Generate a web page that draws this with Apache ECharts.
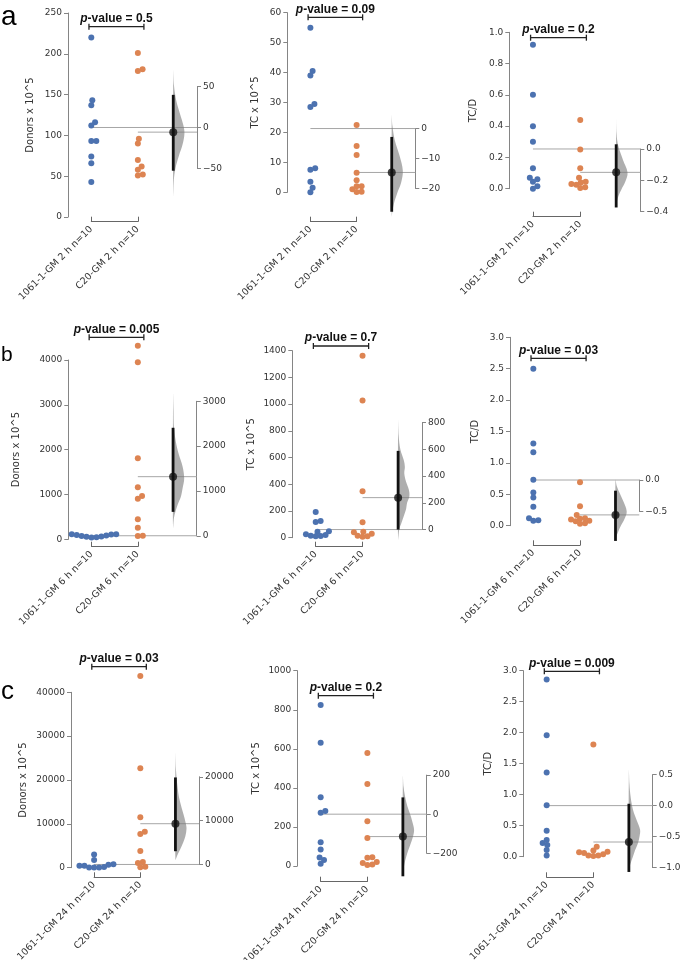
<!DOCTYPE html>
<html>
<head>
<meta charset="utf-8">
<script src="https://cdn.jsdelivr.net/npm/echarts@6/dist/echarts.min.js"></script>
<style>
  html, body { margin: 0; background: #fff; }
  #main { width: 683px; height: 960px; }
</style>
</head>
<body>
<div id="main"></div>
<script>
var times = ['2 h', '6 h', '24 h']
var groupNames = ['1061-1-GM', 'C20-GM']
var groupN = [10, 10]
var measures = ['Donors x 10^5', 'TC x 10^5', 'TC/D']
var rowLetters = ['a', 'b', 'c']
var pValues = [['0.5', '0.09', '0.2'], ['0.005', '0.7', '0.03'], ['0.03', '0.2', '0.009']]

// 2 h
var donors2hCtrl = [220, 143, 137, 116, 112, 93, 93, 74, 66, 43]
var donors2hTest = [201, 181, 179, 96, 90, 70, 62, 58, 52, 51]
var donors2hCI = [-53, 40]
var donors2hBoot = [[70, 0], [52, 0.06], [32, 0.28], [16, 0.62], [3, 0.9], [-7, 1], [-20, 0.85], [-35, 0.5], [-50, 0.2], [-65, 0.05], [-85, 0]]

var tc2hCtrl = [55, 40.5, 39, 29.5, 28.5, 8, 7.5, 3.5, 1.5, 0]
var tc2hTest = [22.5, 15.5, 12.5, 6.5, 4, 2, 2, 1, 0.2, 0.1]
var tc2hCI = [-27.8, -2.8]
var tc2hBoot = [[4.5, 0], [1, 0.06], [-4, 0.28], [-9, 0.7], [-14, 1], [-18, 0.85], [-21.5, 0.5], [-25, 0.2], [-28, 0.05], [-29.5, 0]]

var ratio2hCtrl = [0.92, 0.6, 0.4, 0.3, 0.13, 0.07, 0.06, 0.045, 0.015, 0]
var ratio2hTest = [0.44, 0.25, 0.13, 0.07, 0.045, 0.04, 0.03, 0.025, 0.01, 0.005]
var ratio2hCI = [-0.374, 0.03]
var ratio2hBoot = [[0.2, 0], [0.1, 0.03], [0.02, 0.18], [-0.07, 0.6], [-0.15, 1], [-0.21, 0.8], [-0.26, 0.45], [-0.3, 0.2], [-0.34, 0.05], [-0.37, 0]]

// 6 h
var donors6hCtrl = [115, 110, 105, 95, 85, 75, 65, 55, 45, 40]
var donors6hTest = [4320, 3950, 1810, 1160, 965, 905, 445, 260, 80, 75]
var donors6hCI = [533, 2409]
var donors6hBoot = [[3160, 0], [2800, 0.04], [2420, 0.08], [2100, 0.25], [1830, 0.5], [1550, 0.85], [1275, 1], [1050, 0.85], [870, 0.7], [700, 0.42], [570, 0.25], [400, 0.08], [160, 0]]

var tc6hCtrl = [192, 125, 118, 48, 45, 25, 20, 15, 12, 10]
var tc6hTest = [1362, 1028, 347, 115, 45, 40, 30, 15, 10, 8]
var tc6hCI = [0, 589]
var tc6hBoot = [[820, 0], [700, 0.05], [600, 0.2], [520, 0.5], [470, 0.6], [420, 0.55], [360, 0.7], [300, 0.95], [250, 1], [200, 0.8], [150, 0.7], [100, 0.5], [50, 0.3], [0, 0.1], [-77, 0]]

var ratio6hCtrl = [2.5, 1.31, 1.17, 0.73, 0.53, 0.45, 0.3, 0.12, 0.085, 0.08]
var ratio6hTest = [0.69, 0.31, 0.17, 0.12, 0.11, 0.1, 0.08, 0.07, 0.04, 0.03]
var ratio6hCI = [-0.97, -0.17]
var ratio6hBoot = [[0, 0], [-0.1, 0.12], [-0.2, 0.35], [-0.34, 0.7], [-0.5, 1], [-0.62, 0.8], [-0.72, 0.5], [-0.82, 0.25], [-0.9, 0.08], [-0.96, 0]]

// 24 h
var donors24hCtrl = [3000, 1750, 760, 700, 460, 460, 150, 60, 40, 20]
var donors24hTest = [43700, 22700, 11500, 8200, 7700, 3800, 1300, 1100, 200, 100]
var donors24hCI = [3020, 19840]
var donors24hBoot = [[25300, 0], [22000, 0.04], [19900, 0.1], [17500, 0.2], [15300, 0.32], [13000, 0.55], [11500, 0.72], [9500, 0.92], [8200, 1], [6500, 0.9], [5000, 0.7], [3300, 0.4], [2000, 0.15], [1100, 0]]

var tc24hCtrl = [824, 631, 352, 282, 273, 121, 84, 43, 31, 12]
var tc24hTest = [579, 420, 229, 143, 45, 42, 20, 15, 8, 5]
var tc24hCI = [-318, 86]
var tc24hBoot = [[194, 0], [140, 0.06], [89, 0.2], [40, 0.4], [5, 0.62], [-40, 0.85], [-81, 1], [-120, 0.88], [-150, 0.7], [-185, 0.48], [-218, 0.3], [-260, 0.12], [-313, 0]]

var ratio24hCtrl = [2.86, 1.96, 1.36, 0.83, 0.42, 0.27, 0.22, 0.19, 0.11, 0.02]
var ratio24hTest = [1.81, 0.16, 0.1, 0.08, 0.07, 0.06, 0.04, 0.02, 0.02, 0.01]
var ratio24hCI = [-1.07, 0.03]
var ratio24hBoot = [[0.58, 0], [0.35, 0.05], [0.15, 0.15], [0, 0.28], [-0.12, 0.45], [-0.26, 0.75], [-0.39, 1], [-0.5, 0.95], [-0.61, 0.8], [-0.72, 0.55], [-0.83, 0.35], [-0.95, 0.12], [-1.07, 0]]

// layout of every panel (pixels) and axis ranges
var panels = [
  { row: 0, col: 0, ctrl: donors2hCtrl, test: donors2hTest, ci: donors2hCI, boot: donors2hBoot,
    left: 68, width: 129, top: 13, bottom: 217, min: 0, max: 250, step: 50, dMin: -50, dMax: 50, dStep: 50, dec: 0, nameGap: 33, bracketY: 221.7, pY: 26.7 },
  { row: 0, col: 1, ctrl: tc2hCtrl, test: tc2hTest, ci: tc2hCI, boot: tc2hBoot,
    left: 287.3, width: 128, top: 12.7, bottom: 192.3, min: 0, max: 60, step: 10, dMin: -20, dMax: 0, dStep: 10, dec: 0, nameGap: 27, bracketY: 221.7, pY: 17.3 },
  { row: 0, col: 2, ctrl: ratio2hCtrl, test: ratio2hTest, ci: ratio2hCI, boot: ratio2hBoot,
    left: 509.3, width: 131, top: 32.3, bottom: 188.7, min: 0, max: 1, step: 0.2, dMin: -0.4, dMax: 0, dStep: 0.2, dec: 1, nameGap: 31, bracketY: 216.7, pY: 37.7 },
  { row: 1, col: 0, ctrl: donors6hCtrl, test: donors6hTest, ci: donors6hCI, boot: donors6hBoot,
    left: 68.3, width: 128.4, top: 360, bottom: 539.3, min: 0, max: 4000, step: 1000, dMin: 0, dMax: 3000, dStep: 1000, dec: 0, nameGap: 47, bracketY: 546.7, pY: 337.3 },
  { row: 1, col: 1, ctrl: tc6hCtrl, test: tc6hTest, ci: tc6hCI, boot: tc6hBoot,
    left: 292.3, width: 129.7, top: 350.7, bottom: 537.7, min: 0, max: 1400, step: 200, dMin: 0, dMax: 800, dStep: 200, dec: 0, nameGap: 36, bracketY: 546.7, pY: 346 },
  { row: 1, col: 2, ctrl: ratio6hCtrl, test: ratio6hTest, ci: ratio6hCI, boot: ratio6hBoot,
    left: 510, width: 129.3, top: 337.3, bottom: 525.7, min: 0, max: 3, step: 0.5, dMin: -0.5, dMax: 0, dStep: 0.5, dec: 1, nameGap: 30, bracketY: 545.3, pY: 358.3 },
  { row: 2, col: 0, ctrl: donors24hCtrl, test: donors24hTest, ci: donors24hCI, boot: donors24hBoot,
    left: 71, width: 128, top: 692.3, bottom: 867.7, min: 0, max: 40000, step: 10000, dMin: 0, dMax: 20000, dStep: 10000, dec: 0, nameGap: 43, bracketY: 877.3, pY: 666.7 },
  { row: 2, col: 1, ctrl: tc24hCtrl, test: tc24hTest, ci: tc24hCI, boot: tc24hBoot,
    left: 297.3, width: 129.4, top: 670.7, bottom: 866, min: 0, max: 1000, step: 200, dMin: -200, dMax: 200, dStep: 200, dec: 0, nameGap: 36, bracketY: 881.7, pY: 695.7 },
  { row: 2, col: 2, ctrl: ratio24hCtrl, test: ratio24hTest, ci: ratio24hCI, boot: ratio24hBoot,
    left: 523.3, width: 129.4, top: 670.7, bottom: 856.7, min: 0, max: 3, step: 0.5, dMin: -1, dMax: 0.5, dStep: 0.5, dec: 1, nameGap: 30, bracketY: 877.3, pY: 671.3 }
]

var XMIN = -0.5, XMAX = 2.27, XD = 1.76, VW = 0.24
var BLUE = '#4c72b0', ORANGE = '#dd8452'
var SPINE = '#858585', TEXT = '#333'
var FONT = 'DejaVu Sans'

function mean(a) {
  var s = 0
  a.forEach(function (v) { s += v })
  return s / a.length
}

function fmt(v, dec) {
  return v.toFixed(dec).replace('-', '\u2212')
}

// beeswarm offsets (in x units), points placed by value, nearest to centre
function swarm(vals, ppu, xppu, d) {
  var order = vals.map(function (v, i) { return i }).sort(function (a, b) { return vals[a] - vals[b] })
  var placed = [], out = []
  order.forEach(function (i) {
    var y = vals[i] * ppu
    var cands = [0]
    placed.forEach(function (q) {
      var dy = Math.abs(q.y - y)
      if (dy < d) {
        var dx = Math.sqrt(d * d - dy * dy)
        cands.push(q.x + dx, q.x - dx)
      }
    })
    cands.sort(function (a, b) { return Math.abs(a) - Math.abs(b) })
    var x = cands.find(function (c) {
      return placed.every(function (q) { return (q.x - c) * (q.x - c) + (q.y - y) * (q.y - y) >= d * d - 0.01 })
    })
    placed.push({ x: x, y: y })
    out[i] = x / xppu
  })
  return out
}

var grids = [], xAxes = [], yAxes = [], series = [], graphics = []
var lineStyle = { color: SPINE, width: 1 }

panels.forEach(function (p) {
  var ppu = (p.bottom - p.top) / (p.max - p.min)
  var xppu = p.width / (XMAX - XMIN)
  var m1 = mean(p.ctrl), m2 = mean(p.test), diff = m2 - m1
  var yPix = function (v) { return p.bottom - (v - p.min) * ppu }
  var time = times[p.row]

  // main grid: raw values
  var g = grids.length
  grids.push({ left: p.left, top: p.top, width: p.width, height: p.bottom - p.top, containLabel: false, outerBoundsMode: 'none' })
  xAxes.push({ gridIndex: g, type: 'value', min: XMIN, max: XMAX, show: false })
  yAxes.push({
    gridIndex: g, type: 'value', position: 'left', min: p.min, max: p.max, interval: p.step,
    name: measures[p.col], nameLocation: 'middle', nameGap: p.nameGap,
    nameTextStyle: { fontFamily: FONT, fontSize: 10, color: TEXT },
    axisLine: { show: true, onZero: false, lineStyle: lineStyle },
    axisTick: { show: true, length: 4, lineStyle: lineStyle },
    axisLabel: { show: true, margin: 6, fontFamily: FONT, fontSize: 9, color: TEXT, formatter: function (v) { return fmt(v, p.dec) } },
    splitLine: { show: false }
  })

  series.push({
    type: 'line', xAxisIndex: g, yAxisIndex: g, symbol: 'none', silent: true, z: 1, clip: false,
    lineStyle: { color: '#a6a6a6', width: 1 },
    data: [[0, m1], [XMAX, m1]]
  })
  series.push({
    type: 'line', xAxisIndex: g, yAxisIndex: g, symbol: 'none', silent: true, z: 1, clip: false,
    lineStyle: { color: '#a6a6a6', width: 1 },
    data: [[1, m2], [XMAX, m2]]
  })

  var offC = swarm(p.ctrl, ppu, xppu, 5)
  var offT = swarm(p.test, ppu, xppu, 5)
  series.push({
    type: 'scatter', xAxisIndex: g, yAxisIndex: g, symbolSize: 6, clip: false, z: 3, silent: true,
    itemStyle: { color: BLUE, opacity: 1 },
    data: p.ctrl.map(function (v, i) { return [offC[i], v] })
  })
  series.push({
    type: 'scatter', xAxisIndex: g, yAxisIndex: g, symbolSize: 6, clip: false, z: 3, silent: true,
    itemStyle: { color: ORANGE, opacity: 1 },
    data: p.test.map(function (v, i) { return [1 + offT[i], v] })
  })

  // p-value bracket
  var pv = pValues[p.row][p.col]
  series.push({
    type: 'custom', xAxisIndex: g, yAxisIndex: g, clip: false, silent: true, z: 5,
    data: [[0, p.min]],
    renderItem: function (params, api) {
      var x0 = api.coord([-0.05, p.min])[0], x1 = api.coord([1.13, p.min])[0], y = p.pY
      var st = { stroke: '#222', lineWidth: 1.3 }
      return {
        type: 'group',
        children: [
          { type: 'line', shape: { x1: x0, y1: y, x2: x1, y2: y }, style: st },
          { type: 'line', shape: { x1: x0, y1: y - 3, x2: x0, y2: y + 3 }, style: st },
          { type: 'line', shape: { x1: x1, y1: y - 3, x2: x1, y2: y + 3 }, style: st },
          {
            type: 'text',
            style: {
              x: (x0 + x1) / 2, y: y - 2, align: 'center', verticalAlign: 'bottom',
              text: '{i|p}{b|-value = ' + pv + '}',
              rich: {
                i: { fontFamily: 'Liberation Sans', fontSize: 12, fontWeight: 'bold', fontStyle: 'italic', fill: '#111' },
                b: { fontFamily: 'Liberation Sans', fontSize: 12, fontWeight: 'bold', fill: '#111' }
              }
            }
          }
        ]
      }
    }
  })

  // delta grid: mean difference axis, zero aligned with control mean
  var d = grids.length
  grids.push({ left: p.left, top: yPix(m1 + p.dMax), width: p.width, height: (p.dMax - p.dMin) * ppu, containLabel: false, outerBoundsMode: 'none' })
  xAxes.push({ gridIndex: d, type: 'value', min: XMIN, max: XMAX, show: false })
  yAxes.push({
    gridIndex: d, type: 'value', position: 'right', min: p.dMin, max: p.dMax, interval: p.dStep,
    axisLine: { show: true, onZero: false, lineStyle: lineStyle },
    axisTick: { show: true, length: 4, lineStyle: lineStyle },
    axisLabel: { show: true, margin: 6, fontFamily: FONT, fontSize: 9, color: TEXT, formatter: function (v) { return fmt(v, p.dec) } },
    splitLine: { show: false }
  })
  series.push({
    type: 'custom', xAxisIndex: d, yAxisIndex: d, clip: false, silent: true, z: 2,
    data: [[XD, diff]],
    renderItem: function (params, api) {
      var pts = p.boot.map(function (b) { return api.coord([XD + b[1] * VW, b[0]]) })
      var c0 = api.coord([XD, p.ci[0]]), c1 = api.coord([XD, p.ci[1]])
      return {
        type: 'group',
        children: [
          { type: 'polygon', shape: { points: pts, smooth: 0.35 }, style: { fill: 'rgba(120,120,120,0.6)' } },
          { type: 'line', shape: { x1: c0[0], y1: c0[1], x2: c1[0], y2: c1[1] }, style: { stroke: '#111', lineWidth: 2.8 } }
        ]
      }
    }
  })
  series.push({
    type: 'scatter', xAxisIndex: d, yAxisIndex: d, symbolSize: 8, clip: false, z: 4, silent: true,
    itemStyle: { color: '#111' },
    data: [[XD, diff]]
  })

  // group bracket with rotated labels
  var b = grids.length
  grids.push({ left: p.left + (0 - XMIN) * xppu, top: p.bracketY - 6, width: xppu, height: 6, containLabel: false, outerBoundsMode: 'none' })
  xAxes.push({
    gridIndex: b, type: 'category', boundaryGap: false,
    data: groupNames.map(function (n, i) { return n + ' ' + time + ' n=' + groupN[i] }),
    axisLine: { show: true, onZero: false, lineStyle: { color: '#666', width: 1 } },
    axisTick: { show: true, inside: true, length: 5, lineStyle: { color: '#666', width: 1 } },
    axisLabel: { show: true, interval: 0, rotate: 45, margin: 6, fontFamily: FONT, fontSize: 9.5, color: TEXT }
  })
  yAxes.push({ gridIndex: b, type: 'value', show: false })
})

rowLetters.forEach(function (l, i) {
  var ys = [17, 355, 692]
  var sizes = [28, 21, 26]
  graphics.push({
    type: 'text', x: 1, y: ys[i], silent: true,
    style: { text: l, fontFamily: 'Liberation Sans', fontSize: sizes[i], fill: '#000', verticalAlign: 'middle' }
  })
})

var chart = echarts.init(document.getElementById('main'), null, { renderer: 'canvas' })
chart.setOption({
  animation: false,
  backgroundColor: '#fff',
  grid: grids,
  xAxis: xAxes,
  yAxis: yAxes,
  series: series,
  graphic: graphics
})
</script>
</body>
</html>
